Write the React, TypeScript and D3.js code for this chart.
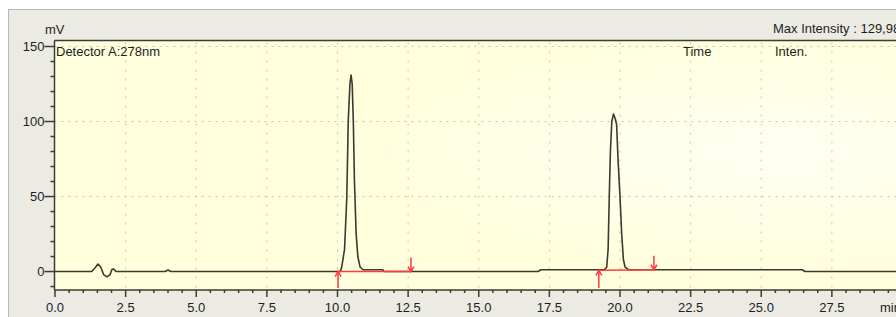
import React from "react";
import * as d3 from "d3";

// Chromatogram trace: [time (min), signal (mV)]
const traceTime = [0, 1.3, 1.42, 1.52, 1.62, 1.72, 1.84, 1.95, 2.02, 2.08, 2.16, 3.9, 4.0, 4.1,
  10.1, 10.15, 10.25, 10.33, 10.38, 10.44, 10.48, 10.52, 10.56, 10.6, 10.66, 10.72, 10.8, 10.9, 11.6, 11.65,
  17.1, 17.2, 19.45, 19.53, 19.58, 19.62, 19.66, 19.71, 19.77, 19.83, 19.88, 19.93, 20.0, 20.06, 20.12, 20.18, 20.3,
  26.45, 26.55, 30];
const traceMv = [0, 0, 2.5, 5, 3, -2, -3.5, -2, 1.5, 1.7, 0, 0, 1, 0,
  0, 3, 15, 50, 100, 125, 131, 125, 100, 60, 25, 10, 3, 1.2, 1.2, 0,
  0, 1.2, 1.2, 3, 15, 50, 80, 100, 105, 102, 98, 75, 50, 25, 8, 3, 1.2,
  1.2, 0, 0];

// Integration baselines (red)
const peakStart = [10.02, 19.25];
const peakEnd = [12.6, 21.2];
const baseStartMv = [0, 0.8];
const baseEndMv = [0, 1.2];

const xMajorTicks = [0, 2.5, 5, 7.5, 10, 12.5, 15, 17.5, 20, 22.5, 25, 27.5];
const yMajorTicks = [0, 50, 100, 150];
const yMinorTicks = [-10, 10, 20, 30, 40, 60, 70, 80, 90, 110, 120, 130, 140];

const FONT = "'Liberation Sans Narrow', 'Liberation Sans', Arial, sans-serif";

export default function App() {
  const W = 896, H = 317;
  const x = d3.scaleLinear().domain([0, 30]).range([55, 55 + 30 * 28.25]);
  const y = d3.scaleLinear().domain([-12.3, 154]).range([290, 40.5]);
  const left = 54.5, top = 40.5, bottom = 290;
  const pts = traceTime.map((t, i) => [t, traceMv[i]] as [number, number]);
  const line = d3.line<[number, number]>().x(d => x(d[0])).y(d => y(d[1]));
  const xMinor = d3.range(0, 30.01, 0.5).filter(v => Math.abs(v / 2.5 - Math.round(v / 2.5)) > 1e-6);
  const red = "#ff3b3b";
  const txt = "#1e1e1e";

  return (
    <svg width={W} height={H} style={{ position: "absolute", left: 0, top: 0 }} fontFamily={FONT}>
      <defs>
        <radialGradient id="bg" cx="0.8" cy="0.45" r="0.5">
          <stop offset="0" stopColor="#fffff2" />
          <stop offset="1" stopColor="#ffffdd" />
        </radialGradient>
      </defs>
      <rect x={0} y={0} width={W} height={H} fill="#ffffff" />
      <rect x={8.5} y={9.5} width={W} height={H} fill="#ebeae3" stroke="#b8b8b0" />
      <rect x={left} y={top} width={W} height={bottom - top} fill="url(#bg)" />

      {/* grid */}
      {xMajorTicks.filter(v => v > 0).map(v => (
        <line key={"gx" + v} x1={x(v)} x2={x(v)} y1={top + 2} y2={bottom} stroke="#c4c4aa" strokeDasharray="2,7" />
      ))}
      {yMajorTicks.filter(v => v > 0).map(v => (
        <line key={"gy" + v} x1={left} x2={W} y1={y(v)} y2={y(v)} stroke="#c4c4aa" strokeDasharray="2,5" />
      ))}

      {/* frame */}
      <line x1={left} x2={W} y1={top} y2={top} stroke="#3c3c34" strokeWidth={1.5} />
      <line x1={left} x2={left} y1={top} y2={bottom} stroke="#3c3c34" strokeWidth={1.5} />
      <line x1={left} x2={W} y1={bottom} y2={bottom} stroke="#3c3c34" strokeWidth={1.5} />

      {/* y ticks */}
      {yMajorTicks.map(v => (
        <g key={"yt" + v}>
          <line x1={left - 10} x2={left} y1={y(v)} y2={y(v)} stroke="#3c3c34" strokeWidth={1.5} />
          <text x={left - 10} y={y(v)} dy="0.35em" textAnchor="end" fontSize={13} fill={txt}>{v}</text>
        </g>
      ))}
      {yMinorTicks.map(v => (
        <line key={"ym" + v} x1={left - 4} x2={left} y1={y(v)} y2={y(v)} stroke="#3c3c34" strokeWidth={1.5} />
      ))}

      {/* x ticks */}
      {xMajorTicks.map(v => (
        <g key={"xt" + v}>
          <line x1={x(v)} x2={x(v)} y1={bottom} y2={bottom + 7} stroke="#3c3c34" strokeWidth={1.5} />
          <text x={x(v)} y={312} textAnchor="middle" fontSize={13} fill={txt}>{v.toFixed(1)}</text>
        </g>
      ))}
      {xMinor.map(v => (
        <line key={"xm" + v} x1={x(v)} x2={x(v)} y1={bottom} y2={bottom + 3} stroke="#3c3c34" strokeWidth={1.5} />
      ))}

      {/* trace */}
      <path d={line(pts) || ""} fill="none" stroke="#3a3a2e" strokeWidth={1.6} strokeLinejoin="round" />

      {/* integration marks */}
      {peakStart.map((s, i) => {
        const e = peakEnd[i];
        const ys = y(baseStartMv[i]), ye = y(baseEndMv[i]);
        return (
          <g key={"pk" + i} stroke={red} strokeWidth={1.5} fill="none">
            <line x1={x(s)} x2={x(e)} y1={ys} y2={ye} />
            <line x1={x(s)} x2={x(s)} y1={bottom - 2} y2={ys} />
            <path d={`M${x(s) - 3},${ys + 5} L${x(s)},${ys} L${x(s) + 3},${ys + 5}`} />
            <line x1={x(e)} x2={x(e)} y1={ye - 14} y2={ye} />
            <path d={`M${x(e) - 3},${ye - 5} L${x(e)},${ye} L${x(e) + 3},${ye - 5}`} />
          </g>
        );
      })}

      {/* labels */}
      <text x={45} y={34} fontSize={13} fill={txt}>mV</text>
      <text x={56} y={56} fontSize={13} fill={txt}>Detector A:278nm</text>
      <text x={683} y={56} fontSize={13} fill={txt}>Time</text>
      <text x={775} y={56} fontSize={13} fill={txt}>Inten.</text>
      <text x={773} y={33} fontSize={13} fill={txt}>Max Intensity : 129,989</text>
      <text x={880} y={312} fontSize={13} fill={txt}>min</text>
    </svg>
  );
}
